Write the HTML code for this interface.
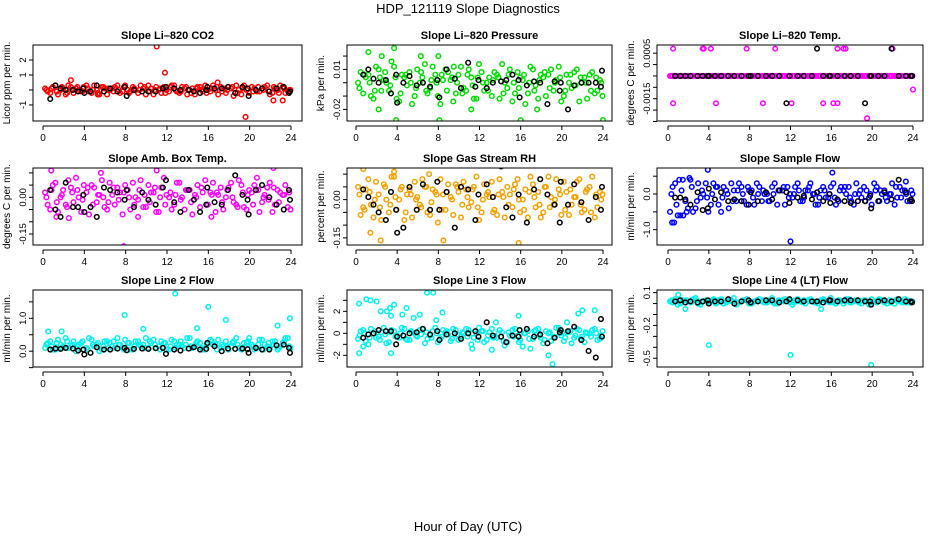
<!DOCTYPE html>
<html><head><meta charset="utf-8">
<style>
html,body{margin:0;padding:0;background:#fff;}
svg{display:block;font-family:"Liberation Sans",Arial,sans-serif;}
</style></head>
<body>
<svg id="chart" width="936" height="540" viewBox="0 0 936 540" xmlns="http://www.w3.org/2000/svg">
<text x="468" y="13" font-size="13" text-anchor="middle">HDP_121119  Slope Diagnostics</text>
<text x="468" y="531" font-size="13" text-anchor="middle">Hour of Day (UTC)</text>
</svg>
<script>
const NS="http://www.w3.org/2000/svg";
const svg=document.getElementById('chart');
const hourTicks=[0,4,8,12,16,20,24];
const blackHours=[0.7,1.2,1.7,2.2,2.9,3.4,3.9,4.0,4.6,5.2,5.9,6.5,7.2,7.9,8.1,8.8,9.6,10.2,10.9,11.6,11.9,12.7,13.3,14.1,14.6,15.2,15.8,15.9,16.6,17.3,17.9,18.6,19.3,19.8,19.9,20.6,21.2,21.9,22.6,23.3,23.8,23.9];
const titles=["Slope Li\u2013820 CO2","Slope Li\u2013820 Pressure","Slope Li\u2013820 Temp.","Slope Amb. Box Temp.","Slope Gas Stream RH","Slope Sample Flow","Slope Line 2 Flow","Slope Line 3 Flow","Slope Line 4 (LT) Flow"];
const yTitles=["Licor ppm per min.","kPa per min.","degrees C per min.","degrees C per min.","percent per min.","ml/min per min.","ml/min per min.","ml/min per min.","ml/min per min."];
const colors=["#ff0000","#00dd00","#ff00ff","#ff00ff","#f5a000","#0000ff","#00f0f0","#00f0f0","#00f0f0"];
const yDomains=[[-2.07,3.0],[-0.0287,0.0283],[-0.00099,0.00068],[-0.195,0.12],[-0.178,0.124],[-1.43,0.73],[-0.48,1.86],[-3.06,3.94],[-0.58,0.124]];
const yTickVals=[[-1,0,1,2],[-0.02,-0.01,0,0.01,0.02],[0.0005,0.00025,0,-0.00025,-0.0005,-0.00075,-0.001],[0.1,0.05,0,-0.05,-0.1,-0.15],[0.1,0.05,0,-0.05,-0.1,-0.15],[0.5,0,-0.5,-1],[1.5,1,0.5,0,-0.5],[3,2,1,0,-1,-2],[0.1,0,-0.1,-0.2,-0.3,-0.4,-0.5]];
const yTickLabels=[["-1","","1","2"],["-0.02","","","0.01",""],["0.0005","","","","-0.0015","",""],["","","0.00","","","-0.15"],["","","0.00","","","-0.15"],["","0.0","","-1.0"],["","1.0","","0.0",""],["","2","","0","","-2"],["0.1","","","-0.2","","","-0.5"]];

const bandA=[
[0.1,-0.2,0.3,0,-0.3,0.2,0.1,-0.1,0.3,-0.2,0,0.2,-0.3,0.1,0.3,-0.1,0,0.2,-0.2,0.1,0.3,-0.3,0,0.2,-0.1,0.3,-0.2,0.1,0,-0.3,0.2,0.3,-0.1,0,0.2,-0.2,0.1,0.3,-0.3,0,0.2,-0.1,0.1,0.3,-0.2,0,0.2,-0.1],
[0,-0.008,0.006,-0.012,0.01,0.002,-0.006,0.012,-0.014,0.004,0.008,-0.01,0,0.014,-0.004,0.006,-0.016,0.01,0.002,-0.008,0.012,-0.006,0.004,-0.012,0.008,0,-0.01,0.006,0.014,-0.004,-0.014,0.008,0.002,-0.008,0.01,-0.012,0.004,0.006,-0.006,0.012,-0.01,0,0.008,-0.014,0.004,0.006,-0.008,0.002],
[0,0,0,0,0,0,0,0,0,0,0,0,0,0,0,0,0,0,0,0,0,0,0,0,0,0,0,0,0,0,0,0,0,0,0,0,0,0,0,0,0,0,0,0,0,0,0,0],
[0.02,-0.05,0.06,0,-0.03,0.04,0.08,-0.06,0.02,0.05,-0.02,0.07,-0.05,0.01,0.04,-0.07,0.03,0.06,-0.01,-0.04,0.05,0.02,-0.06,0.08,0,-0.03,0.06,-0.05,0.03,0.01,-0.04,0.07,0.02,-0.06,0.04,0,0.06,-0.03,0.05,-0.05,0.02,0.08,-0.02,0.04,-0.06,0.03,0.01,-0.04],
[0.05,-0.03,0.08,-0.07,0.02,0.06,-0.05,0.09,0,-0.08,0.04,0.07,-0.02,0.05,-0.06,0.03,0.08,-0.04,0.01,0.06,-0.07,0.04,-0.01,0.09,-0.05,0.02,0.07,-0.06,0.03,0.05,-0.03,0.08,0,-0.07,0.06,0.03,-0.05,0.09,-0.02,0.04,0.07,-0.06,0.01,0.08,-0.04,0.05,-0.07,0.03],
[-0.5,0.3,-0.6,-0.2,0.4,-0.4,-0.1,0.3,-0.3,0.2,-0.5,0.1,0.3,-0.2,0.2,-0.3,0.1,0.3,-0.2,0,0.2,-0.3,0.1,0.2,-0.1,0.3,-0.2,0.1,0,-0.3,0.2,-0.1,0.3,-0.2,0.1,0.2,-0.3,0,0.2,-0.1,0.3,-0.2,0.1,0,-0.3,0.2,0.1,-0.2],
[0.1,0.3,0.05,0.2,0.4,0.15,0,0.25,0.1,0.35,0.2,0.05,0.3,0.15,0.4,0.1,0.25,0.05,0.3,0.2,0.1,0.35,0.15,0.25,0.05,0.3,0.2,0.1,0.4,0.15,0.25,0.05,0.35,0.2,0.1,0.3,0.15,0.4,0.05,0.25,0.2,0.1,0.35,0.15,0.3,0.05,0.25,0.4],
[-0.5,0.3,-1,0,-0.3,0.5,-0.8,0.2,-0.4,0.4,-0.6,0,0.3,-0.9,-0.2,0.5,-0.5,0.1,-0.7,0.3,-0.3,0.4,-1,0,0.2,-0.6,0.4,-0.4,0.1,-0.8,0.3,-0.2,-1.2,0.2,-0.5,0.4,-0.9,0,-0.3,0.5,-0.7,0.1,-0.4,0.3,-0.8,0,0.4,-0.5],
[0.02,0.04,0,0.03,0.01,0.05,-0.01,0.03,0.02,0,0.04,0.01,0.03,-0.01,0.02,0.04,0,0.03,0.02,0.01,0.05,0,0.03,0.02,-0.01,0.04,0.01,0.03,0.02,0,0.04,0.02,0.01,0.03,0,0.04,0.02,0.01,0.03,-0.01,0.02,0.04,0.01,0.03,0,0.02,0.04,0.01]];
const bandB=[
[-0.1,0.2,-0.3,0.1,0.3,-0.2,0,0.2,-0.1,0.3,-0.3,0.1,0,0.2,-0.2,0.3,-0.1,0,0.3,-0.3,0.1,0.2,-0.2,0,0.3,-0.1,0.2,-0.3,0.1,0.2,-0.1,0,0.3,-0.3,0.1,0.2,-0.4,0,0.3,-0.2,0.1,-0.1,0.2,-0.3,0.1,0.3,-0.2,0],
[0.008,0.004,-0.01,0.012,-0.006,0,0.016,-0.012,0.006,-0.002,-0.016,0.01,0.004,-0.008,0.012,-0.01,0.002,0.008,-0.014,0.006,-0.004,0.01,-0.012,0.014,-0.006,0.004,0.008,-0.012,0,0.01,-0.008,0.004,-0.016,0.012,-0.002,0.006,-0.01,0.01,0.002,-0.014,0.006,-0.004,0.01,0,-0.012,0.008,-0.006,-0.01],
[0,0,0,0,0,0,0,0,0,0,0,0,0,0,0,0,0,0,0,0,0,0,0,0,0,0,0,0,0,0,0,0,0,0,0,0,0,0,0,0,0,0,0,0,0,0,0,0],
[-0.03,0.05,-0.06,0.03,0.07,-0.02,0,0.05,-0.07,0.04,0.01,-0.04,0.06,-0.03,0.02,0.05,-0.05,0,0.07,-0.04,0.02,-0.06,0.04,0.01,-0.05,0.06,0,0.03,-0.07,0.05,0.02,-0.03,0.06,0.01,-0.05,0.04,-0.02,0.07,-0.04,0.03,0.05,-0.06,0.01,0.06,-0.03,0.02,0.05,-0.05],
[-0.06,0.04,-0.02,0.07,-0.08,0,0.09,-0.04,0.05,0.02,-0.07,0.01,0.08,-0.05,0.04,-0.09,0.02,0.06,-0.06,0.03,0.07,-0.03,0.05,-0.08,0.06,0.01,-0.04,0.08,-0.07,0.02,0.06,-0.05,0.04,0.09,-0.03,-0.07,0.05,0.01,0.08,-0.06,0.03,-0.02,0.07,-0.05,0.04,0.09,-0.03,0.02],
[0.2,-0.6,0.4,-0.4,-0.5,0.3,0,-0.5,0.3,-0.3,0.2,-0.4,0.1,0.3,-0.2,0.1,-0.3,0.2,0,-0.2,0.3,0.1,-0.3,0,0.2,-0.2,0.1,0.3,-0.3,0.1,-0.1,0.2,-0.3,0.2,0,-0.2,0.3,-0.1,0.1,-0.3,0.2,0,-0.2,0.3,-0.1,0.1,-0.2,0],
[0.25,0.05,0.35,0.15,0.1,0.3,0.2,0.05,0.4,0.15,0,0.3,0.25,0.1,0.2,0.35,0.05,0.3,0.15,0.4,0.25,0.1,0.3,0.05,0.35,0.2,0.15,0.4,0.1,0.3,0.05,0.25,0.2,0.35,0.15,0.05,0.3,0.1,0.25,0.4,0.05,0.35,0.2,0.1,0.3,0.15,0.4,0.1],
[0.2,-0.7,0.4,-0.4,0.1,-0.9,0.3,-0.2,0.5,-0.6,0.1,-0.3,0.4,-0.5,0.2,-0.8,0.3,-0.1,0.4,-0.6,0,0.3,-0.4,0.5,-0.8,0.1,-0.3,0.3,-1.1,-0.2,0.4,-0.6,0,-1.4,0.3,-0.4,0.2,-0.7,0.5,-0.2,0.1,-0.9,0.4,-0.3,0,0.3,-0.6,0.2],
[0.01,-0.01,0.03,0.02,0.04,0,0.02,0.01,0.04,0.03,0,0.02,0.05,0.01,0.03,0,0.02,0.04,0.01,0.03,0,0.02,0.04,0.01,0.03,0.02,0,0.04,0.01,0.03,0.02,0.05,0,0.02,0.04,0.01,0.03,0,0.02,0.04,0.01,0.03,0,0.02,0.04,0.01,0.03,0.02]];
const bandC=[
[0,0.1,-0.1,0.2,-0.2,0,0.2,-0.1,0.1,0,-0.2,0.2,0.1,-0.1,0,0.2,-0.2,0.1,0,0.2,-0.1,0,0.1,-0.2,0.2,0,-0.1,0.2,-0.2,0.1,0,-0.2,0.1,0.2,-0.1,0,0.2,-0.2,0.1,0.1,-0.1,0.2,0,-0.1,0.2,-0.2,0.1,0],
[-0.004,0.006,0,-0.006,0.004,0.008,-0.002,0.004,-0.008,0.006,0,-0.004,0.008,-0.006,0.002,0,0.006,-0.006,0.004,0,-0.008,0.006,-0.002,0.004,0,-0.006,0.002,0.004,-0.008,0.006,0,-0.004,0.006,0,-0.006,0.002,0.008,-0.004,0,0.004,-0.006,0.006,-0.002,0.004,0,-0.006,0.004,0],
[0,0,0,0,0,0,0,0,0,0,0,0,0,0,0,0,0,0,0,0,0,0,0,0,0,0,0,0,0,0,0,0,0,0,0,0,0,0,0,0,0,0,0,0,0,0,0,0],
[0,0.03,-0.02,0.01,-0.04,0.02,0.03,-0.01,0.04,-0.03,0.01,0,-0.02,0.04,-0.01,0.02,0,-0.03,0.03,0.01,-0.02,0.04,0,-0.03,0.02,0.01,-0.01,0.03,-0.02,0,0.04,-0.03,0.01,0.02,-0.02,0.03,0,-0.04,0.02,0.01,-0.03,0.03,0,-0.01,0.04,-0.02,0.01,0.02],
[0.02,-0.04,0.03,0,-0.03,0.05,-0.02,0.01,0.04,-0.05,0.02,0,-0.03,0.05,-0.01,0.02,-0.04,0.03,0,0.05,-0.02,0.01,0.04,-0.03,0,0.03,-0.05,0.02,0.01,-0.02,0.04,0,-0.04,0.03,0.01,-0.02,0.05,-0.03,0,0.02,-0.04,0.04,0.01,-0.02,0.03,-0.05,0.02,0],
[0,-0.3,0.1,-0.5,0.2,-0.2,0.1,-0.1,0,0.2,-0.1,0,-0.2,0.1,0,0.2,-0.1,0,0.1,-0.2,0,0.1,0.2,-0.1,0,0.1,-0.1,0.2,0,-0.1,0.1,0,-0.1,0.1,0.2,-0.1,0,0.1,-0.2,0,0.1,0.1,-0.1,0,0.2,-0.1,0,0.1],
[0.2,0.15,0.25,0.1,0.3,0.2,0.15,0.3,0.05,0.2,0.25,0.15,0.1,0.3,0.2,0.05,0.25,0.15,0.2,0.1,0.3,0.2,0.05,0.25,0.15,0.1,0.3,0.2,0.15,0.25,0.1,0.2,0.3,0.05,0.2,0.15,0.25,0.2,0.1,0.3,0.15,0.2,0.05,0.25,0.2,0.1,0.3,0.15],
[-0.2,0,-0.4,0.2,-0.6,-0.1,0.1,-0.3,0,-0.5,0.2,-0.2,-0.1,0.1,-0.4,0,-0.3,0.2,-0.5,-0.1,0.1,-0.3,0,-0.6,0.2,-0.2,-0.4,0,-0.7,0.1,-0.3,-0.8,0,-0.5,0.2,-0.2,-0.6,0.1,-0.3,0,-0.4,0.2,-0.2,-0.5,0.1,-0.3,0,-0.2],
[0.03,0.02,0.01,0.03,0.02,0.03,0.01,0.02,0.03,0.01,0.02,0.03,0.02,0.01,0.03,0.02,0.01,0.02,0.03,0.02,0.01,0.03,0.02,0.03,0.01,0.02,0.03,0.02,0.01,0.02,0.03,0.01,0.02,0.03,0.02,0.01,0.03,0.02,0.03,0.01,0.02,0.03,0.02,0.01,0.03,0.02,0.01,0.02]];
const outliers=[
[[11,2.9],[11.8,1.15],[19.6,-1.8],[2.7,0.65],[22.3,-0.7],[23.2,-0.7],[16.9,0.5],[5.3,-0.3]],
[[1.2,0.023],[3.7,0.026],[2.2,-0.02],[3.9,-0.028],[6.3,0.02],[8.0,0.02],[8.1,-0.028],[11.2,-0.02],[16,-0.028],[17.6,-0.02],[24,-0.028],[2.5,0.02],[9.5,0.012]],
[[0.5,0.0006],[3.4,0.0006],[3.5,0.0006],[4.2,0.0006],[7.7,0.0006],[10.5,0.0006],[16.6,0.0006],[17.2,0.0006],[17.4,0.0006],[22.0,0.0006],[0.5,-0.0006],[4.7,-0.0006],[9.3,-0.0006],[12.1,-0.0006],[15.2,-0.0006],[16.2,-0.0006],[16.6,-0.0006],[19.5,-0.00093],[24.0,-0.0003]],
[[0.8,0.11],[7.8,-0.2],[5.6,0.1],[9.2,-0.08],[22.3,0.12],[11,0.11],[1.3,-0.08],[2.5,-0.085],[16.3,-0.08]],
[[0.7,0.12],[1.4,-0.13],[3.7,0.11],[2.4,-0.16],[8.5,-0.16],[9.3,0.14],[12.4,-0.22],[12.8,-0.19],[15.8,-0.17],[16.8,0.15],[21.2,-0.2],[7.1,0.1],[13.6,0.14]],
[[0.4,-0.8],[0.6,-0.8],[2.1,0.45],[3.9,0.68],[12,-1.33],[16.1,0.6],[23.3,0.35],[1.5,-0.6],[1.1,0.4]],
[[12.8,1.75],[16,1.35],[7.9,1.1],[17.7,0.95],[23.9,1.0],[3.7,-0.75],[22.7,0.78],[9.7,0.68],[14.9,0.7],[0.5,0.6],[1.8,0.6]],
[[0.3,2.7],[1,3.1],[1.4,3],[2,2.9],[2.4,2],[3,2],[3.3,2.3],[3.7,2.6],[3.4,1.6],[4.9,2.3],[4.5,1.7],[6.9,3.7],[7.5,3.7],[5.6,1.4],[6.2,1.7],[8.4,1.9],[7.8,1.2],[0.3,-1.8],[3.4,-1.8],[13.2,-1.5],[15.8,1.6],[19.1,-2.8],[18.7,-2],[22,2.1],[23.2,2.1],[21.6,1.8],[20.5,1.0],[13.6,1],[0.7,-1.2],[11.3,-1.4]],
[[4,-0.38],[12,-0.47],[19.9,-0.56],[1.0,0.08],[1.7,-0.05],[15,-0.05]]];
const blackVals=[
[-0.6,0.3,0.1,0,0,-0.1,0.1,-0.2,-0.1,0.3,-0.1,0.1,-0.1,0.2,-0.4,0,-0.1,-0.1,-0.1,0.1,0.2,0.1,0,0,-0.1,-0.2,0,0.2,0.1,0.1,0.2,-0.2,0.2,0.1,-0.4,0,0.1,-0.1,0.1,0.2,-0.2,-0.1],
[0.006,0.01,0.003,0,0.002,-0.008,0.006,-0.015,0,0.005,-0.002,0,-0.003,0.002,-0.011,0.01,0.003,-0.004,0.015,-0.003,0.002,-0.004,0,0.001,0.002,0.006,0.002,-0.011,-0.002,0.001,0,-0.016,0.001,-0.006,0,-0.02,-0.002,0,0,0,-0.003,0.009],
[0,0,0,0,0,0,0,0,0,0,0,0,0,0,0,0,0,0,0,-0.0006,0,0,0,0,0.0006,0,0,0,0,0,0,0,-0.0006,0,0,0,0,0.0006,0,0,0,0],
[0.03,-0.05,-0.08,0.06,-0.04,-0.04,0.01,-0.06,-0.04,-0.08,0.04,0.03,0.02,-0.01,0.03,-0.04,0.02,-0.01,-0.03,0.04,0.07,-0.02,-0.06,0.03,-0.01,-0.06,-0.03,0.04,-0.02,-0.03,0.03,0.09,0.01,-0.01,-0.07,0.03,0.05,0,-0.03,-0.05,0.03,-0.01],
[0.04,0.01,-0.02,-0.05,-0.08,0.03,-0.04,-0.13,-0.11,0.05,-0.04,0.06,-0.04,0.07,-0.04,0.03,-0.11,0.05,0.04,-0.08,0.02,0.06,0.01,0.13,-0.03,-0.07,0.02,0.14,-0.09,0.04,0.08,0.02,-0.02,-0.09,0.07,-0.02,0.06,-0.01,-0.08,0.01,-0.04,0.05],
[-0.1,-0.1,-0.15,-0.3,0.05,-0.45,-0.4,0.15,-0.15,0.05,-0.2,-0.15,-0.2,-0.3,0.05,-0.2,0.05,-0.15,0.1,0.05,-0.25,-0.1,-0.05,-0.15,0.05,-0.2,0,-0.25,-0.15,-0.2,-0.25,-0.2,-0.2,-0.05,-0.4,-0.2,0.05,-0.15,0.4,0.05,-0.15,-0.2],
[0.05,0.08,0.07,0.1,0.08,0.02,0.05,-0.1,-0.05,0.12,0.05,0.05,0.08,0.1,0.03,0.07,0.08,0.07,0.09,0.1,-0.08,0.05,0.02,0.08,0.12,0.05,0.07,0.25,0.15,0,0.08,0.07,0.08,0.06,-0.05,0.1,0.05,0.05,0.18,0.2,0.1,-0.05],
[-0.4,-0.1,0,0.3,0.2,0.2,-1,-0.3,-0.2,0,0.1,0.4,-0.1,0.2,-0.6,-0.1,0,-0.5,0,0.2,-0.3,1,-0.2,-0.3,-0.8,-0.2,-0.3,0.3,0.4,-0.3,-0.1,-0.9,-0.4,0.1,0.3,0.2,0.6,-0.6,-1.6,-2.2,1.3,-0.3],
[0.02,0.03,0.01,0.02,0.01,0.02,0.03,0,0.02,0.02,0.04,0,0.02,0.03,0.01,0.02,0.03,0.03,0.01,0.02,0.04,0.03,0.02,0.02,0.02,0.01,0.03,0.03,0.02,0.03,0.03,0.03,0.02,0.02,-0.01,0.02,0.03,0.02,0.04,0.02,0.02,0.01]];

const cols=[{l:33,r:302,x0:43,x24:291},{l:347,r:612,x0:356,x24:603},{l:657,r:923,x0:668,x24:913}];
const rows=[{t:45,b:121},{t:168,b:245},{t:290,b:367}];

function mk(tag,attrs,parent){const e=document.createElementNS(NS,tag);for(const k in attrs)e.setAttribute(k,attrs[k]);(parent||svg).appendChild(e);return e;}

for(let p=0;p<9;p++){
  const c=cols[p%3], r=rows[Math.floor(p/3)];
  const dom=yDomains[p];
  const xs=h=>c.x0+(h/24)*(c.x24-c.x0);
  const ys=v=>r.b-(v-dom[0])/(dom[1]-dom[0])*(r.b-r.t);
  const g=mk('g',{});
  
  
  const t=mk('text',{x:(c.l+c.r)/2,y:r.t-6,'font-size':11,'font-weight':'bold','text-anchor':'middle'},g);
  
  
  t.textContent=titles[p];
  const yt=mk('text',{transform:`translate(${c.l-23},${(r.t+r.b)/2}) rotate(-90)`,'font-size':10,'text-anchor':'middle'},g);
  
  
  yt.textContent=yTitles[p];
  const xa=mk('g',{},g);
  
  
  mk('line',{x1:xs(0),x2:xs(24),y1:r.b+5,y2:r.b+5,stroke:'#000','stroke-width':1},xa);
  hourTicks.forEach(h=>{
    mk('line',{x1:xs(h),x2:xs(h),y1:r.b+5,y2:r.b+9,stroke:'#000','stroke-width':1},xa);
    const tl=mk('text',{x:xs(h),y:r.b+20,'font-size':10,'text-anchor':'middle'},xa);
    
    
    tl.textContent=h;
  });
  const ya=mk('g',{},g);
  
  
  const tv=yTickVals[p];
  mk('line',{x1:c.l,x2:c.l,y1:ys(Math.max(...tv)),y2:ys(Math.min(...tv)),stroke:'#000','stroke-width':1},ya);
  tv.forEach((v,i)=>{
    mk('line',{x1:c.l-4,x2:c.l,y1:ys(v),y2:ys(v),stroke:'#000','stroke-width':1},ya);
    if(yTickLabels[p][i]){
      const yl=mk('text',{transform:`translate(${c.l-7},${ys(v)}) rotate(-90)`,'font-size':9.5,'text-anchor':'middle'},ya);
      
      
      yl.textContent=yTickLabels[p][i];
    }
  });
  const clipId='clip'+p;
  const cp=mk('clipPath',{id:clipId},g);mk('rect',{x:c.l,y:r.t,width:c.r-c.l,height:r.b-r.t},cp);
  const pts=mk('g',{'clip-path':`url(#${clipId})`,fill:'none','stroke-width':1.5},g);
  
  
  const col=colors[p];
  const R=2.3;
  bandA[p].forEach((v,i)=>{
    const e=mk('circle',{cx:xs(0.2+i*0.5),cy:ys(v),r:R,stroke:col},pts);
    
    
  });
  bandB[p].forEach((v,i)=>{
    const e=mk('circle',{cx:xs(0.45+i*0.5),cy:ys(v),r:R,stroke:col},pts);
    
    
  });
  bandC[p].forEach((v,i)=>{
    const e=mk('circle',{cx:xs(0.33+i*0.5),cy:ys(v),r:R,stroke:col},pts);
    
    
  });
  outliers[p].forEach(o=>{
    const e=mk('circle',{cx:xs(o[0]),cy:ys(o[1]),r:R,stroke:col},pts);
    
    
  });
  blackVals[p].forEach((v,i)=>{
    const e=mk('circle',{cx:xs(blackHours[i]),cy:ys(v),r:R,stroke:'#000'},pts);
    
    
  });
  const box=mk('rect',{x:c.l,y:r.t,width:c.r-c.l,height:r.b-r.t,fill:'none',stroke:'#000','stroke-width':1},g);
  
  
}
</script>
</body></html>
